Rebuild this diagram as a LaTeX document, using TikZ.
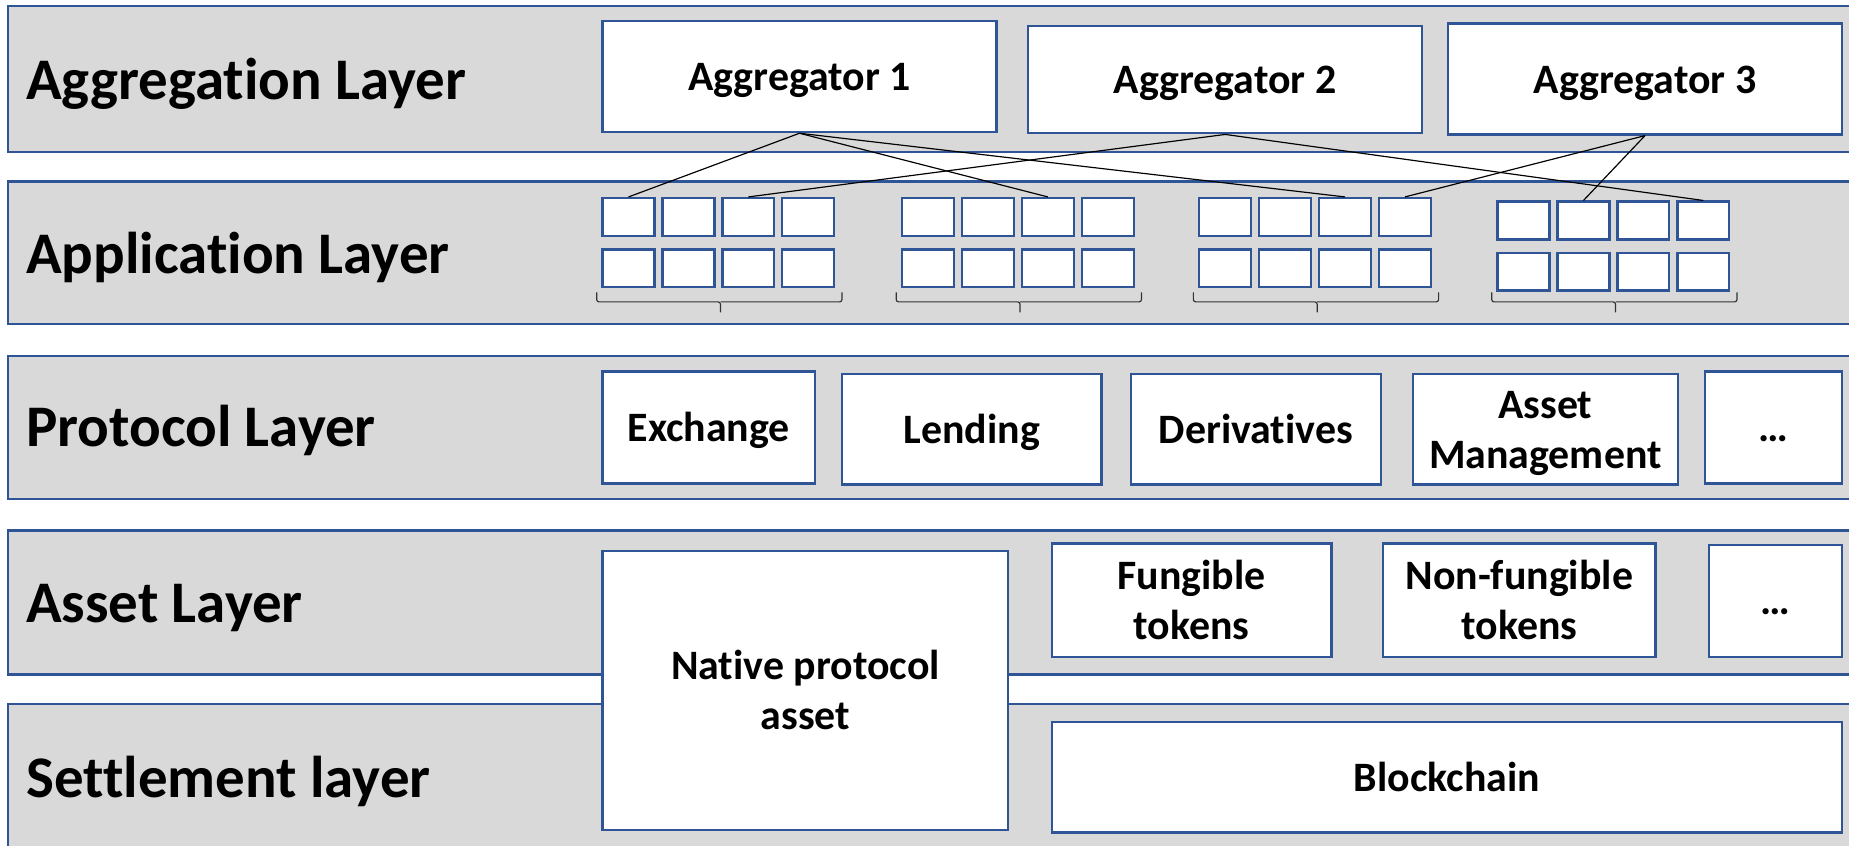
\documentclass[tikz,border=0pt]{standalone}
\usepackage{fontspec}
\setmainfont{Carlito}[Ligatures=NoCommon]
\definecolor{panelgray}{HTML}{D9D9D9}
\definecolor{bordercol}{HTML}{2F5597}
\tikzset{
  panel/.style={draw=bordercol, fill=panelgray, line width=2pt},
  box/.style={draw=bordercol, fill=white, line width=2pt, inner sep=0pt},
  appbox/.style={box, minimum width=44pt, minimum height=32pt},
  layerlabel/.style={anchor=base west, inner sep=0pt, font=\fontsize{50}{60}\selectfont\bfseries},
  boxtext/.style={anchor=base, inner sep=0pt, yshift=-12pt, font=\fontsize{35.5}{42}\selectfont\bfseries},
  boxtexttwo/.style={anchor=base, inner sep=0pt, yshift=9pt, font=\fontsize{35.5}{42}\selectfont\bfseries},
  link/.style={draw=black, line width=1pt},
  bracepath/.style={draw=black!80, line width=1pt, rounded corners=2pt}
}
\begin{document}
\begin{tikzpicture}[x=1pt, y=-1pt]
\useasboundingbox (0,0) rectangle (1568,717);
\clip (0,0) rectangle (1568,717);
% layer panels
\draw[panel] (7,5) rectangle (1600,129);
\draw[panel] (7,154) rectangle (1600,275);
\draw[panel] (7,302) rectangle (1600,423);
\draw[panel] (7,450) rectangle (1600,572);
\draw[panel] (7,597) rectangle (1600,730);
% layer labels
\node[layerlabel] (lagg) at (22,84) {Aggregation Layer};
\node[layerlabel] (lapp) at (22,232) {Application Layer};
\node[layerlabel] (lprot) at (22,379) {Protocol Layer};
\node[layerlabel] (lasset) at (22,528) {Asset Layer};
\node[layerlabel] (lsett) at (22,676) {Settlement layer};
% aggregators
\node[box, minimum width=334pt, minimum height=94pt] (agg1) at (678,65) {};
\node[box, minimum width=334pt, minimum height=91pt] (agg2) at (1039,67.5) {};
\node[box, minimum width=334pt, minimum height=94pt] (agg3) at (1395,67) {};
\node[boxtext] (tagg1) at (agg1.center) {Aggregator 1};
\node[boxtext] (tagg2) at (agg2.center) {Aggregator 2};
\node[boxtext] (tagg3) at (agg3.center) {Aggregator 3};
% application boxes and braces
\foreach \g/\gx/\gy in {1/511/168, 2/765/168, 3/1017/168, 4/1270/171} {
  \foreach \c in {0,...,3} {
    \node[appbox] (app-\g-1-\c) at ({\gx+22+\c*50.8}, {\gy+16}) {};
    \node[appbox] (app-\g-2-\c) at ({\gx+22+\c*50.8}, {\gy+59.5}) {};
  }
  \draw[bracepath] ({\gx-5},248) |- ({\gx+100},256) -- ({\gx+100},265);
  \draw[bracepath] ({\gx+203},248) |- ({\gx+100},256);
}
% protocol boxes
\node[box, minimum width=180pt, minimum height=95pt] (exch) at (601,362.5) {};
\node[box, minimum width=220pt, minimum height=94pt] (lend) at (824,364) {};
\node[box, minimum width=212pt, minimum height=94pt] (deriv) at (1065,364) {};
\node[box, minimum width=225pt, minimum height=94pt] (amgmt) at (1310.5,364) {};
\node[box, minimum width=116pt, minimum height=95pt] (pdots) at (1504,362.5) {};
\node[boxtext] (texch) at (exch.center) {Exchange};
\node[boxtext] (tlend) at (lend.center) {Lending};
\node[boxtext] (tderiv) at (deriv.center) {Derivatives};
\node[boxtexttwo] (tamgmt) at (amgmt.center) {\begin{tabular}[t]{@{}c@{}}Asset\\Management\end{tabular}};
\node[boxtext] (tpdots) at (pdots.center) {…};
% asset boxes
\node[box, minimum width=344pt, minimum height=237pt] (native) at (683,585.5) {};
\node[box, minimum width=237pt, minimum height=96pt] (fung) at (1010.5,509) {};
\node[box, minimum width=231pt, minimum height=96pt] (nft) at (1288.5,509) {};
\node[box, minimum width=113pt, minimum height=95pt] (adots) at (1505.5,509.5) {};
\node[boxtexttwo] (tnative) at (native.center) {\begin{tabular}[t]{@{}c@{}}Native protocol\\asset\end{tabular}};
\node[boxtexttwo] (tfung) at (fung.center) {\begin{tabular}[t]{@{}c@{}}Fungible\\tokens\end{tabular}};
\node[boxtexttwo] (tnft) at (nft.center) {\begin{tabular}[t]{@{}c@{}}Non-fungible\\tokens\end{tabular}};
\node[boxtext] (tadots) at (adots.center) {…};
% settlement
\node[box, minimum width=670pt, minimum height=94pt] (chain) at (1227,659) {};
\node[boxtext] (tchain) at (chain.center) {Blockchain};
% links
\draw[link] (agg1.south) -- (app-1-1-0.north);
\draw[link] (agg1.south) -- (app-2-1-2.north);
\draw[link] (agg1.south) -- (app-3-1-2.north);
\draw[link] (agg2.south) -- (app-1-1-2.north);
\draw[link] (agg2.south) -- (app-4-1-3.north);
\draw[link] (agg3.south) -- (app-3-1-3.north);
\draw[link] (agg3.south) -- (app-4-1-1.north);
\end{tikzpicture}
\end{document}
